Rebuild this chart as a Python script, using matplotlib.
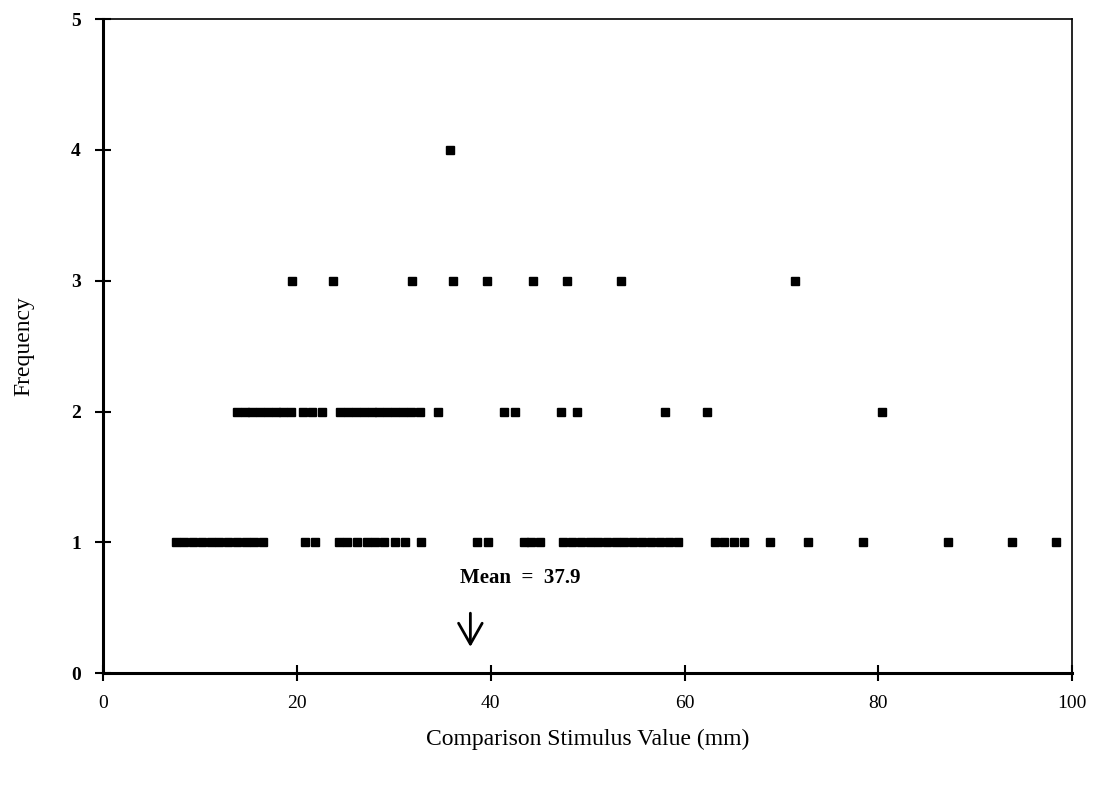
import matplotlib.pyplot as plt

plt.rcParams['font.family'] = ['Liberation Serif', 'DejaVu Serif']

# stimulus values (mm) for each frequency level
freq1 = [7.5, 8.4, 9.3, 10.2, 11.1, 12.0, 12.9, 13.8, 14.7, 15.6, 16.5,
         20.8, 21.9,
         24.3, 25.2, 26.2, 27.2, 28.1, 29.0, 30.1, 31.2, 32.8,
         38.6, 39.7,
         43.4, 44.2, 45.1,
         47.5, 48.4, 49.3, 50.2, 51.1, 52.0, 52.9, 53.8, 54.7, 55.6, 56.5, 57.5,
         58.4, 59.3,
         63.1, 64.1, 65.1, 66.1, 68.8,
         72.7, 78.4, 87.2, 93.8, 98.3]
freq2 = [13.8, 14.6, 15.4, 16.2, 17.0, 17.8, 18.6, 19.4, 20.6, 21.6, 22.6,
         24.5, 25.3, 26.1, 26.9, 27.7, 28.5, 29.3, 30.1, 30.9, 31.8, 32.7,
         34.6, 41.4, 42.5, 47.2, 48.9, 58.0, 62.3, 80.4]
freq3 = [19.5, 23.7, 31.9, 36.1, 39.6, 44.4, 47.9, 53.4, 71.4]
freq4 = [35.8]

mean_val = 37.9

fig = plt.figure(figsize=(11.02, 7.92), dpi=100)
ax = fig.add_axes([0.0935, 0.150, 0.8795, 0.826])

for f, xs in [(1, freq1), (2, freq2), (3, freq3), (4, freq4)]:
    ax.plot(xs, [f] * len(xs), 's', color='black', markersize=5.2, linestyle='none')

ax.set_xlim(0, 100)
ax.set_ylim(0, 5)
ax.set_xticks([0, 20, 40, 60, 80, 100])
ax.set_yticks([0, 1, 2, 3, 4, 5])
ax.tick_params(direction='inout', length=12, width=1.5, labelsize=14, pad=10)
for lbl in ax.get_yticklabels():
    lbl.set_fontweight('bold')
for s in ax.spines.values():
    s.set_linewidth(1.2)
ax.spines['left'].set_linewidth(2.2)
ax.spines['bottom'].set_linewidth(2.2)

ax.set_xlabel('Comparison Stimulus Value (mm)', fontsize=17, labelpad=12)
ax.set_ylabel('Frequency', fontsize=17, labelpad=26)

ax.text(43, 0.73, 'Mean  =  37.9', fontsize=15, fontweight='bold', ha='center', va='center')
ax.annotate('', xy=(mean_val, 0.18), xytext=(mean_val, 0.48),
            arrowprops=dict(arrowstyle='->,head_length=1.5,head_width=0.85', lw=2, color='black'))

plt.savefig('out.png', dpi=100)
